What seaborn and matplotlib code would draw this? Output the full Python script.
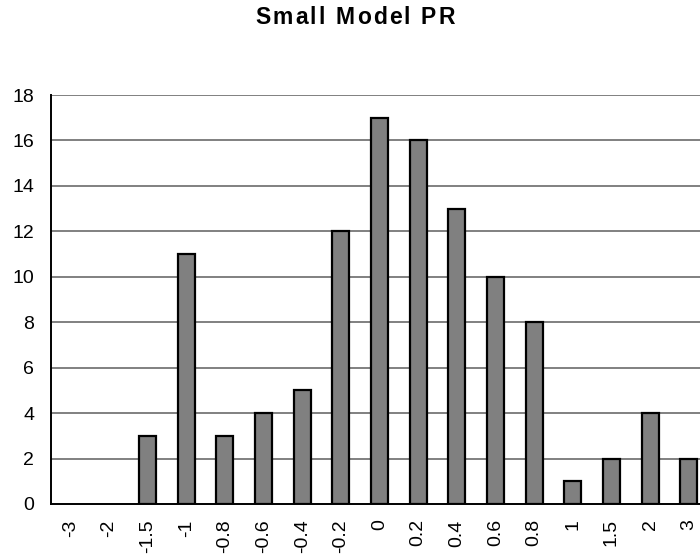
import matplotlib
matplotlib.use("Agg")
import matplotlib.pyplot as plt
import seaborn as sns
import numpy as np

categories = ["-3", "-2", "-1.5", "-1", "-0.8", "-0.6", "-0.4", "-0.2", "0",
              "0.2", "0.4", "0.6", "0.8", "1", "1.5", "2", "3"]
counts = [0, 0, 3, 11, 3, 4, 5, 12, 17, 16, 13, 10, 8, 1, 2, 4, 2]
y_ticks = [0, 2, 4, 6, 8, 10, 12, 14, 16, 18]
title = "Small Model PR"

sns.set_style("white")
plt.rcParams["font.family"] = ["Liberation Sans", "DejaVu Sans"]

W, H = 700, 557
fig = plt.figure(figsize=(W / 100, H / 100), dpi=100)
left, right, top, bottom = 51, 708, 95, 504
ax = fig.add_axes([left / W, (H - bottom) / H, (right - left) / W, (bottom - top) / H])

sns.barplot(x=categories, y=counts, order=categories, color="#808080",
            saturation=1, edgecolor="black", linewidth=1.6, width=0.44, ax=ax, zorder=3)
# empty bins get no outline
for patch in ax.patches:
    if patch.get_height() == 0:
        patch.set_visible(False)

ax.set_xlim(-0.5, len(categories) - 0.5)
ax.set_ylim(0, 18)
ax.set_yticks(y_ticks)
ax.set_yticklabels([str(v) for v in y_ticks], fontsize=14)
for v in y_ticks[1:]:
    ax.axhline(v, color="#808080", linewidth=1.4, zorder=1)

ax.set_xticks(range(len(categories)))
ax.set_xticklabels(categories, rotation=90, fontsize=14)
ax.set_xticks(np.arange(-0.5, len(categories), 1), minor=True)
ax.tick_params(axis="x", which="major", length=0, pad=11)
ax.tick_params(axis="x", which="minor", length=6, width=1, color="black", direction="out")
ax.tick_params(axis="y", which="major", length=6, width=1, color="black", direction="out", pad=6)
ax.tick_params(axis="both", colors="black")

for s in ["top", "right"]:
    ax.spines[s].set_visible(False)
for s in ["left", "bottom"]:
    ax.spines[s].set_color("black")
    ax.spines[s].set_linewidth(1.4)
ax.set_xlabel("")
ax.set_ylabel("")

# bold title with a little extra letter spacing
renderer = fig.canvas.get_renderer()
spacing = 2.2
title_props = dict(fontsize=16.5, fontweight="bold", color="black")
widths = []
for ch in title:
    t = fig.text(0, 0, ch if ch != " " else "a", **title_props)
    bb = t.get_window_extent(renderer)
    widths.append(bb.width if ch != " " else bb.width * 0.5)
    t.remove()
total = sum(widths) + spacing * (len(title) - 1)
x = 355 - total / 2
for ch, w in zip(title, widths):
    if ch != " ":
        fig.text(x / W, 1 - 18 / H, ch, ha="left", va="center", **title_props)
    x += w + spacing

fig.savefig("out.png", dpi=100)
